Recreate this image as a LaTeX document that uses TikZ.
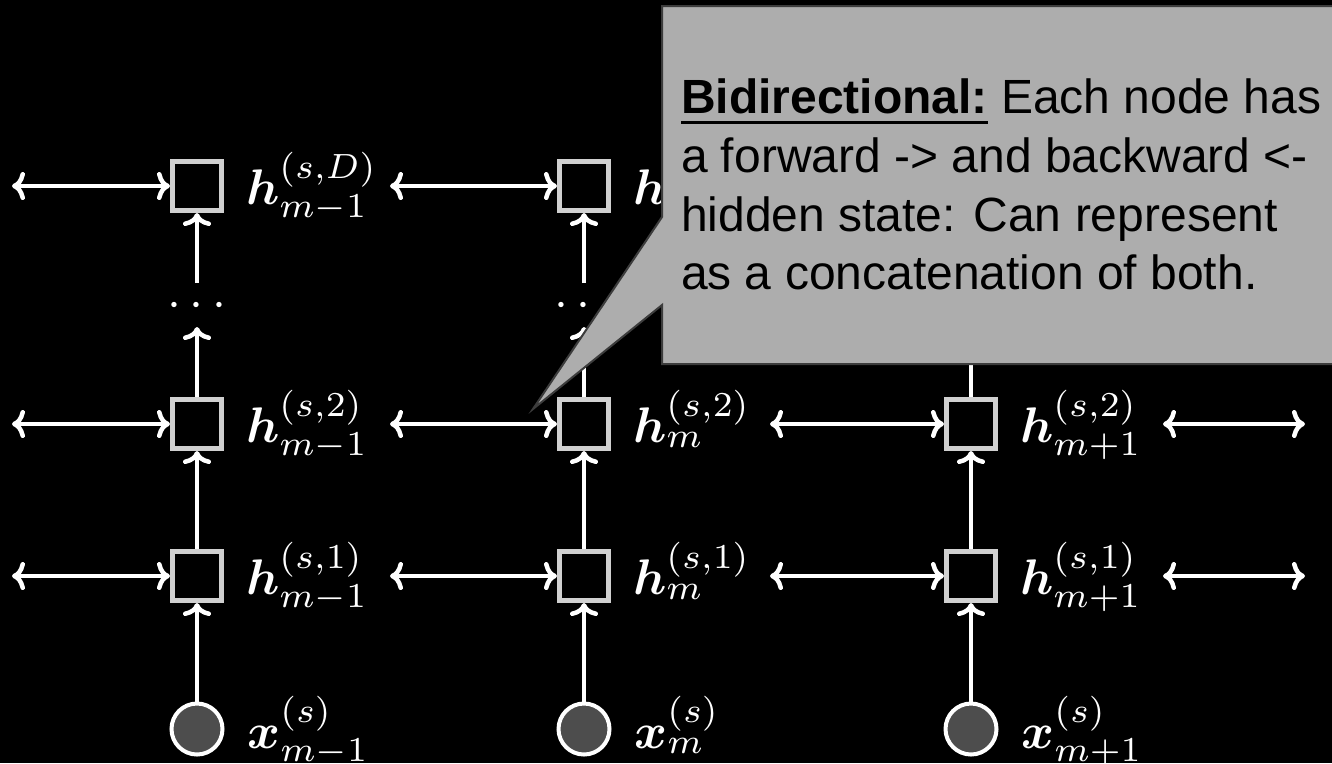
\documentclass[tikz,border=0pt]{standalone}
\usepackage{bm}
\usepackage{fontspec}
\newfontfamily\callfont{Liberation Sans}
\usetikzlibrary{arrows.meta}
\definecolor{boxgray}{RGB}{208,208,208}
\definecolor{circfill}{RGB}{77,77,77}
\definecolor{callfill}{RGB}{173,173,173}
\definecolor{callline}{RGB}{60,60,60}
\newcommand\myul[1]{\setbox0\hbox{#1}\rlap{\rule[-2.1pt]{\wd0}{0.6pt}}\box0\relax}
\begin{document}
\begin{tikzpicture}[x=0.2pt,y=-0.2pt,
  cell/.style={rectangle, draw=boxgray, line width=1pt, fill=black, minimum size=9.8pt, inner sep=0pt},
  inp/.style={circle, draw=white, line width=0.8pt, fill=circfill, minimum size=10.2pt, inner sep=0pt},
  lab/.style={anchor=base west, text=white, inner sep=0pt},
  vdots/.style={text=white, inner sep=0pt, text height=5pt, text depth=0pt, minimum height=8.4pt, minimum width=12pt},
  cmtip/.tip={Computer Modern Rightarrow[length=2.6pt,width=5.6pt]},
  link/.style={draw=white, line width=0.9pt, -cmtip},
  blink/.style={draw=white, line width=0.9pt, cmtip-cmtip},
  calltext/.style={anchor=base west, inner sep=0pt, text=black, font=\callfont\fontsize{9.6}{11.6}\selectfont},
]
\fill[black] (0,0) rectangle (1332,763);
\useasboundingbox (0,0) rectangle (1332,763);

\foreach \c/\x/\sub in {1/197/{m-1}, 2/584/{m}, 3/971/{m+1}} {
  \node[inp] (x\c) at (\x,729) {};
  \node[cell] (a\c) at (\x,576) {};
  \node[cell] (b\c) at (\x,424) {};
  \node[vdots] (d\c) at (\x,305) {\ifnum\c<3 $\cdots$\fi};
  \node[cell] (t\c) at (\x,186) {};
  \node[lab] (lx\c) at ([xshift=4.4pt,yshift=-3.8pt]x\c.east) {$\bm{x}^{(s)}_{\sub}$};
  \node[lab] (la\c) at ([xshift=4.2pt,yshift=-3.6pt]a\c.east) {$\bm{h}^{(s,1)}_{\sub}$};
  \node[lab] (lb\c) at ([xshift=4.2pt,yshift=-3.6pt]b\c.east) {$\bm{h}^{(s,2)}_{\sub}$};
  \draw[link] (x\c) -- (a\c);
  \draw[link] (a\c) -- (b\c);
  \draw[link] (b\c) -- (d\c.south);
  \draw[link] (d\c.north) -- (t\c);
}
\node[lab] (lt1) at ([xshift=4.2pt,yshift=-3.6pt]t1.east) {$\bm{h}^{(s,D)}_{m-1}$};
\node[lab] (lt2) at ([xshift=4.2pt,yshift=-3.6pt]t2.east) {$\bm{h}$};

\foreach \r/\y in {a/576, b/424, t/186} {
  \coordinate (p\r0) at (12,\y);
  \coordinate (p\r1) at (390,\y);
  \coordinate (p\r2) at (770,\y);
  \coordinate (p\r3) at (1163,\y);
  \coordinate (p\r4) at (1305,\y);
  \draw[blink] (p\r0) -- (\r1);
  \draw[blink] (p\r1) -- (\r2);
  \draw[blink] (p\r2) -- (\r3);
  \draw[blink] (p\r3) -- (p\r4);
}

\filldraw[fill=callfill, draw=callline, line width=0.4pt]
  (662,6) -- (1345,6) -- (1345,364) -- (662,364) -- (662,305) -- (533,409) -- (662,217) -- cycle;
\node[calltext] (c1) at (680,113) {\myul{\textbf{Bidirectional:}} Each node has};
\node[calltext] (c2) at (680,172) {a forward -> and backward <-};
\node[calltext] (c3) at (680,231) {hidden state: Can represent};
\node[calltext] (c4) at (680,289) {as a concatenation of both.};
\end{tikzpicture}
\end{document}
